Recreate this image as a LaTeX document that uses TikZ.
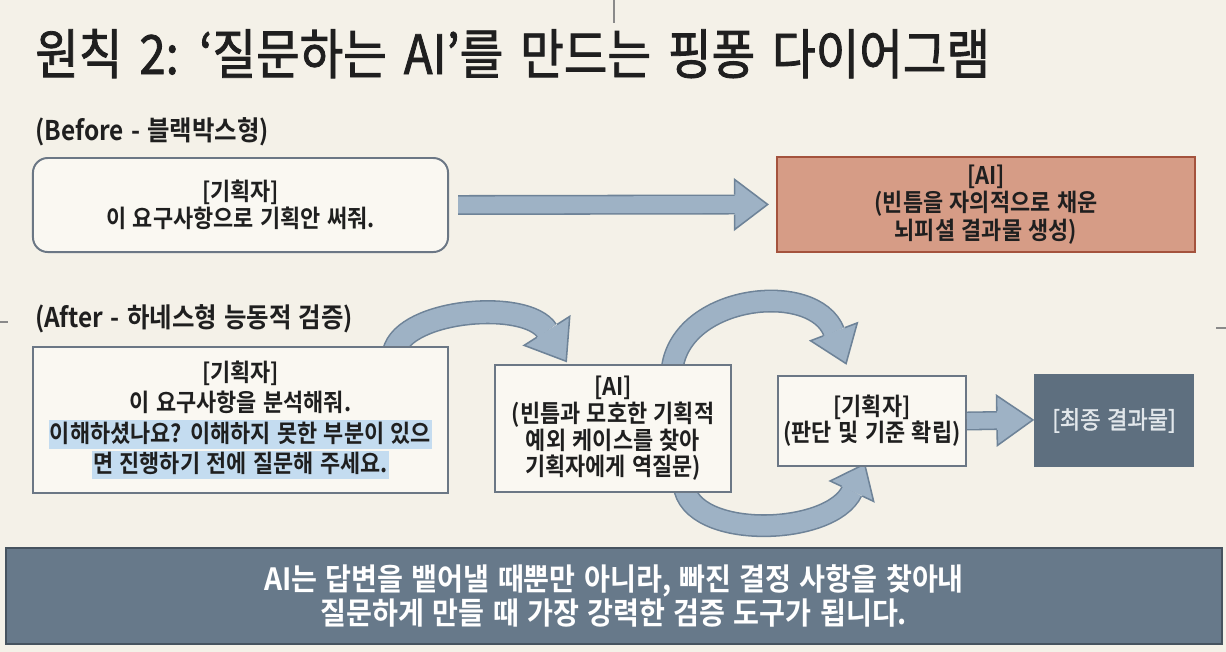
\documentclass[tikz,border=0pt]{standalone}
\usepackage{fontspec}
\usetikzlibrary{calc,decorations.markings}
\setmainfont{Noto Sans CJK KR}[WordSpace=1.3]
\newfontfamily\titlefont{Noto Sans CJK KR}[FakeStretch=0.875,WordSpace=1.6,FakeBold=1.5]
\newfontfamily\medfont{Noto Sans CJK KR Bold}[FakeStretch=0.9,WordSpace=1.3]
\newfontfamily\banfont{Noto Sans CJK KR Bold}[FakeStretch=0.92,WordSpace=1.3]
\newfontfamily\darkfont{Noto Sans CJK KR}[FakeStretch=0.9,FakeBold=1.5,WordSpace=1.3]
\definecolor{bgc}{HTML}{F4F1E8}
\definecolor{boxf}{HTML}{FAF8F2}
\definecolor{boxb}{HTML}{6B7785}
\definecolor{arrf}{HTML}{9EB2C5}
\definecolor{arrb}{HTML}{6E8398}
\definecolor{redf}{HTML}{D69C86}
\definecolor{redb}{HTML}{A4533D}
\definecolor{darkf}{HTML}{5E6F7F}
\definecolor{darkt}{HTML}{E2E7EB}
\definecolor{banf}{HTML}{67798A}
\definecolor{banb}{HTML}{46535F}
\definecolor{hlc}{HTML}{C4DCF0}
\definecolor{txt}{HTML}{1F1F1F}
\definecolor{tickc}{HTML}{8A8A8A}
\newcommand{\hlline}[1]{{\setlength{\fboxsep}{1pt}\colorbox{hlc}{\rule[-3.5pt]{0pt}{14pt}#1}}}
\tikzset{
  card/.style={draw=boxb, line width=1.4pt, fill=boxf, inner sep=0pt, outer sep=0pt,
    align=center, text=txt, font=\medfont\fontsize{17.3}{19.5}\selectfont},
  fatarrow/.style n args={4}{draw=arrb, line width=1.1pt, double=arrf, double distance=#1,
    postaction={decorate, decoration={markings, mark=at position 0.999 with {
      \fill[arrf] (0,#3) -- (#2,0) -- (0,-#3) -- cycle;
      \draw[arrb, line width=1.1pt, line join=miter] (0,#4) -- (0,#3) -- (#2,0) -- (0,-#3) -- (0,-#4);}}}},
  seclabel/.style={anchor=base west, inner sep=0pt, text=txt, font=\medfont\fontsize{19.3}{21}\selectfont},
  ticksty/.style={draw=tickc, line width=0.8pt}
}
\begin{document}
\begin{tikzpicture}[x=0.025cm,y=-0.025cm]
\fill[bgc] (0,0) rectangle (1226,652);
\useasboundingbox (0,0) rectangle (1226,652);
% small marks
\draw[ticksty] (614,0) -- (614,23);
\draw[ticksty] (0,322) -- (8,322);
\draw[ticksty] (1216,328) -- (1226,328);
% title
\node[anchor=base west, inner sep=0pt, text=txt, font=\titlefont\fontsize{38.5}{42}\selectfont] (title) at (35,74)
  {원칙 2: ‘질문하는 AI’를 만드는 핑퐁 다이어그램};
\node[seclabel] (before) at (35,140) {(Before - 블랙박스형)};
\node[seclabel] (after) at (35,327) {(After - 하네스형 능동적 검증)};
% coordinates for head bases
\coordinate (hA) at (547,331);
\coordinate (hB) at (834,332);
\coordinate (hC) at (852,491);
% curved arrows (drawn behind boxes)
\draw[fatarrow={15pt}{36}{27}{12}] (394,352) .. controls (404,309) and (527,299) .. (hA);
\draw[fatarrow={14.1pt}{34}{25}{11.5}] (672,370) .. controls (680,294) and (814.5,280) .. (hB);
\draw[fatarrow={14.1pt}{30}{24}{11.5}] (684,485) .. controls (690,540) and (831,536.5) .. (hC);
% boxes
\node[card, rounded corners=10.5pt, minimum width=10.375cm, minimum height=2.35cm] (b1) at (240.5,205)
  {[기획자]\\이 요구사항으로 기획안 써줘.};
\node[card, draw=redb, line width=2pt, fill=redf, text=txt, minimum width=10.45cm, minimum height=2.375cm] (ai1) at (986,204.5)
  {[AI]\\(빈틈을 자의적으로 채운\\뇌피셜 결과물 생성)};
\node[card, font=\medfont\fontsize{17.3}{21.5}\selectfont, minimum width=10.375cm, minimum height=3.65cm] (b2) at (240.5,420)
  {[기획자]\\이 요구사항을 분석해줘.\\\hlline{이해하셨나요? 이해하지 못한 부분이 있으}\\\hlline{면 진행하기 전에 질문해 주세요.}};
\node[card, font=\medfont\fontsize{17.3}{19}\selectfont, minimum width=5.9cm, minimum height=3.175cm] (b3) at (613,428.5)
  {[AI]\\(빈틈과 모호한 기획적\\예외 케이스를 찾아\\기획자에게 역질문)};
\node[card, font=\medfont\fontsize{17.3}{18.5}\selectfont, minimum width=4.7cm, minimum height=2.25cm] (b4) at (872,421)
  {[기획자]\\(판단 및 기준 확립)};
\node[card, draw=none, fill=darkf, text=darkt, font=\darkfont\fontsize{17.5}{19}\selectfont, minimum width=4cm, minimum height=2.325cm] (b5) at (1114,420.5)
  {[최종 결과물]};
% straight arrows
\draw[fatarrow={12pt}{33}{25}{10}] ($(b1.east)+(10,0)$) -- ($(ai1.west)+(-42,0)$);
\draw[fatarrow={11.3pt}{36}{25}{9.5}] ($(b4.east)+(1,0)$) -- ($(b5.west)+(-37,0)$);
% banner
\node[draw=banb, line width=1.5pt, fill=banf, text=white, align=center, inner sep=0pt,
  minimum width=30.4cm, minimum height=2.4cm, font=\banfont\fontsize{21.8}{24.5}\selectfont] (banner) at (614,596)
  {AI는 답변을 뱉어낼 때뿐만 아니라, 빠진 결정 사항을 찾아내\\질문하게 만들 때 가장 강력한 검증 도구가 됩니다.};
\end{tikzpicture}
\end{document}
